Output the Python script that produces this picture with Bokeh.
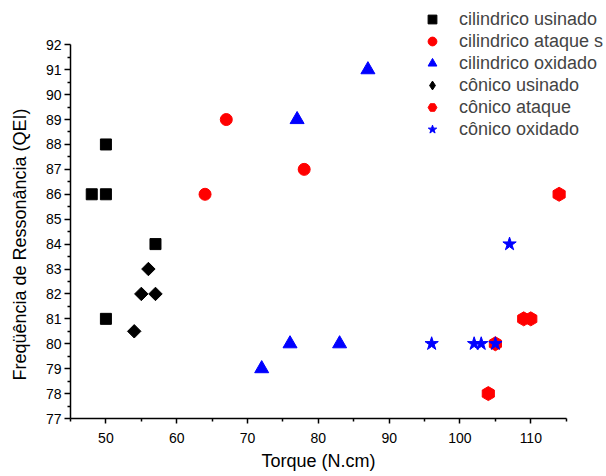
import math
from bokeh.plotting import figure
from bokeh.models import FixedTicker, Legend, LegendItem, Range1d
from bokeh.embed import file_html
from bokeh.resources import INLINE

# ---- data ----
cil_usinado_x = [48, 50, 50, 50, 57]
cil_usinado_y = [86, 86, 88, 81, 84]

cil_ataque_x = [64, 67, 78]
cil_ataque_y = [86, 89, 87]

cil_oxidado_x = [72, 76, 77, 83, 87]
cil_oxidado_y = [79, 80, 89, 80, 91]

con_usinado_x = [54, 55, 57, 56]
con_usinado_y = [80.5, 82, 82, 83]

con_ataque_x = [104, 105, 109, 110, 114]
con_ataque_y = [78, 80, 81, 81, 86]

con_oxidado_x = [96, 102, 103, 105, 107]
con_oxidado_y = [80, 80, 80, 80, 84]

series_names = ["cilindrico usinado", "cilindrico ataque s", "cilindrico oxidado",
                "cônico usinado", "cônico ataque", "cônico oxidado"]

x_ticks = [50, 60, 70, 80, 90, 100, 110]
x_minor = [45, 55, 65, 75, 85, 95, 105, 115]
y_ticks = list(range(77, 93))
y_minor = [v + 0.5 for v in range(77, 92)]
x_axis_bounds = (45, 115)
y_axis_bounds = (77, 92)

FONT = "Liberation Sans"

# layout (pixels): axes span 45..115 over 495.7 px, 77..92 over 373.7 px
W, H = 606, 476
LEFT, BOTTOM = 70, 58
px_x = 495.7 / (x_axis_bounds[1] - x_axis_bounds[0])
px_y = 373.7 / (y_axis_bounds[1] - y_axis_bounds[0])
x_end = x_axis_bounds[0] + (W - LEFT) / px_x
y_end = y_axis_bounds[0] + (H - BOTTOM) / px_y

p = figure(width=W, height=H, output_backend="svg", toolbar_location=None,
           x_range=Range1d(x_axis_bounds[0], x_end), y_range=Range1d(y_axis_bounds[0], y_end),
           min_border_left=LEFT, min_border_right=0, min_border_top=0, min_border_bottom=BOTTOM)
p.outline_line_color = None
p.grid.visible = False
p.background_fill_color = "white"
p.border_fill_color = "white"

for ax in (p.xaxis[0], p.yaxis[0]):
    ax.axis_line_width = 1.5
    ax.axis_line_color = "black"
    ax.major_tick_line_width = 1.5
    ax.minor_tick_line_width = 1.5
    ax.major_tick_line_color = "black"
    ax.minor_tick_line_color = "black"
    ax.major_tick_in = 0
    ax.minor_tick_in = 0
    ax.minor_tick_out = 3
    ax.major_label_text_font = FONT
    ax.major_label_text_font_size = "14px"
    ax.major_label_text_color = "black"
    ax.axis_label_text_font = FONT
    ax.axis_label_text_font_size = "18px"
    ax.axis_label_text_font_style = "normal"
    ax.axis_label_text_color = "black"

NB = "\u00a0"
p.xaxis[0].bounds = x_axis_bounds
p.yaxis[0].bounds = y_axis_bounds
p.xaxis[0].ticker = FixedTicker(ticks=x_ticks, minor_ticks=x_minor)
p.yaxis[0].ticker = FixedTicker(ticks=y_ticks, minor_ticks=y_minor)
p.xaxis[0].major_tick_out = 5
p.yaxis[0].major_tick_out = 6
p.xaxis[0].major_label_standoff = 9
p.yaxis[0].major_label_standoff = 3
p.xaxis[0].axis_label = "Torque (N.cm)" + NB * 8
p.xaxis[0].axis_label_standoff = 5
p.yaxis[0].axis_label = "Freqüência de Ressonância (QEI)" + NB * 14
p.yaxis[0].axis_label_standoff = 13

# legend swatch for the rotated-square series (legend glyphs are drawn unrotated);
# it sits fully underneath the rotated squares drawn on top of it
r4_key = p.scatter(con_usinado_x, con_usinado_y, marker="diamond", size=9.5, color="black")

r1 = p.scatter(cil_usinado_x, cil_usinado_y, marker="square", size=11, color="black")
r2 = p.scatter(cil_ataque_x, cil_ataque_y, marker="circle", size=12, color="red")
r3 = p.scatter(cil_oxidado_x, cil_oxidado_y, marker="triangle", size=14, color="blue")
r4 = p.scatter(con_usinado_x, con_usinado_y, marker="square", size=9.5, angle=math.pi / 4, color="black")
r5 = p.scatter(con_ataque_x, con_ataque_y, marker="hex", size=14, angle=math.pi / 6, color="red")
r6 = p.scatter(con_oxidado_x, con_oxidado_y, marker="star", size=14, color="blue")

legend = Legend(items=[LegendItem(label=n, renderers=[r]) for n, r in
                       zip(series_names, [r1, r2, r3, r4_key, r5, r6])],
                location=(350, 278), padding=0, margin=0, spacing=0,
                glyph_width=24, glyph_height=22, label_height=22, label_standoff=15,
                label_text_font=FONT, label_text_font_size="18px",
                border_line_alpha=0, background_fill_alpha=0)
p.add_layout(legend, "center")

open("out.html", "w").write(file_html(p, INLINE))
